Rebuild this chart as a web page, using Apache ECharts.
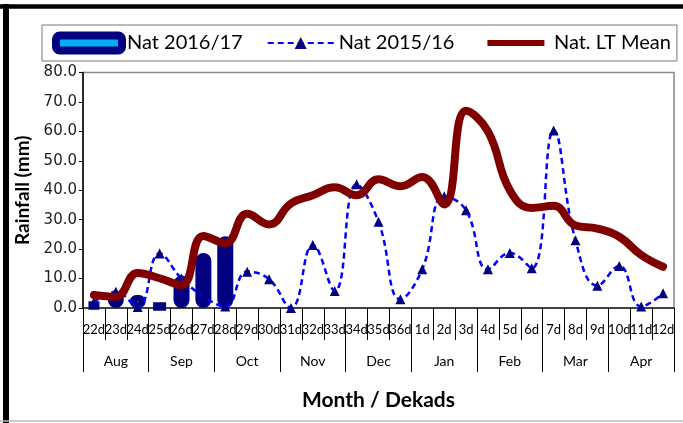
<!DOCTYPE html>
<html>
<head>
<meta charset="utf-8">
<script src="https://cdn.jsdelivr.net/npm/echarts@6/dist/echarts.min.js"></script>
<style>
  html, body { margin: 0; padding: 0; background: #fff; }
  #chart { width: 683px; height: 423px; }
</style>
</head>
<body>
<div id="chart"></div>
<script>
// dekads along the x axis, grouped by month
const dekads = ['22d', '23d', '24d', '25d', '26d', '27d', '28d', '29d', '30d',
  '31d', '32d', '33d', '34d', '35d', '36d', '1d', '2d', '3d', '4d', '5d', '6d',
  '7d', '8d', '9d', '10d', '11d', '12d'];
const months = ['Aug', 'Sep', 'Oct', 'Nov', 'Dec', 'Jan', 'Feb', 'Mar', 'Apr'];

// rainfall (mm)
const nat1617 = [1.7, 5.5, 4.4, 1, 11, 18.7, 24.4, null, null, null, null, null, null, null,
  null, null, null, null, null, null, null, null, null, null, null, null, null];
const nat1516 = [2, 5.5, 0.3, 18.5, 10, 4, 0.5, 12.3, 9.8, 0, 21.4, 5.8, 42, 29.3,
  3, 13.2, 38, 33.2, 13.2, 18.7, 13.5, 60.3, 23, 7.6, 14.3, 0.5, 5];
const ltMean = [4.4, 3.8, 11.9, 10.1, 7.8, 24.5, 22, 32, 28.4, 35.5, 38.3, 41, 38.3, 43.7,
  41.4, 44.5, 35.2, 67, 60, 40, 34, 34.7, 28, 27, 24.2, 18, 14];

const yTicks = { min: 0, max: 80, interval: 10 };

const chart = echarts.init(document.getElementById('chart'));

const option = {
  animation: false,
  textStyle: { fontFamily: 'Lato' },
  legend: {
    left: 42,
    top: 25,
    width: 634,
    padding: [6, 6, 6, 10],
    borderColor: '#777',
    borderWidth: 1,
    itemWidth: 66,
    itemHeight: 15,
    itemGap: 24,
    textStyle: { fontSize: 20, color: '#000', fontFamily: 'Lato', padding: [0, 0, 0, 0] },
    data: [
      { name: 'Nat 2016/17', icon: 'roundRect',
        itemStyle: { color: '#00B0F0', borderColor: '#000080', borderWidth: 8 } },
      { name: 'Nat 2015/16' },
      // thick maroon bar: white border trims the icon down to a line
      { name: 'Nat. LT Mean', icon: 'roundRect',
        itemStyle: { color: '#800000', borderColor: '#fff', borderWidth: 9 } }
    ]
  },
  grid: {
    left: 83,
    right: 9,
    top: 72.5,
    bottom: 115,
    show: true,
    borderColor: '#888',
    borderWidth: 1.5
  },
  xAxis: [
    {
      type: 'category',
      data: dekads,
      position: 'bottom',
      boundaryGap: true,
      axisLine: { show: true, lineStyle: { color: '#222', width: 1.5 } },
      axisTick: { show: true, interval: 0, length: 32, lineStyle: { color: '#000', width: 1 } },
      axisLabel: { interval: 0, margin: 15, fontSize: 13, color: '#000', fontFamily: 'Lato' }
    },
    {
      type: 'category',
      data: months,
      position: 'bottom',
      boundaryGap: true,
      axisLine: { show: false },
      axisTick: { show: true, interval: 0, length: 64, lineStyle: { color: '#000', width: 1 } },
      axisLabel: { interval: 0, margin: 46, fontSize: 14, color: '#000', fontFamily: 'Lato' },
      name: 'Month / Dekads',
      nameLocation: 'middle',
      nameGap: 82,
      nameTextStyle: { fontSize: 21, fontWeight: 'bold', color: '#000', fontFamily: 'Lato' }
    }
  ],
  yAxis: {
    type: 'value',
    min: yTicks.min,
    max: yTicks.max,
    interval: yTicks.interval,
    name: 'Rainfall (mm)',
    nameLocation: 'middle',
    nameRotate: 90,
    nameGap: 42,
    nameTextStyle: { fontSize: 19, fontWeight: 'bold', color: '#000', fontFamily: 'Lato' },
    axisLine: { show: true, lineStyle: { color: '#000', width: 1.5 } },
    axisTick: { show: true, length: 4, lineStyle: { color: '#000' } },
    splitLine: { show: false },
    axisLabel: {
      margin: 6,
      fontSize: 15,
      color: '#222',
      fontFamily: 'DejaVu Sans',
      formatter: v => v.toFixed(1)
    }
  },
  series: [
    {
      name: 'Nat 2016/17',
      type: 'bar',
      data: nat1617,
      barWidth: 16,
      z: 1,
      itemStyle: {
        color: '#00B0F0',
        borderColor: '#000080',
        borderWidth: 8.5,
        borderRadius: 4
      }
    },
    {
      name: 'Nat 2015/16',
      type: 'line',
      data: nat1516,
      smooth: 0.45,
      z: 3,
      symbol: 'triangle',
      symbolSize: 10,
      itemStyle: { color: '#000080' },
      lineStyle: { color: '#0000FF', width: 2.5, type: [6, 4] }
    },
    {
      name: 'Nat. LT Mean',
      type: 'line',
      data: ltMean,
      smooth: 0.45,
      z: 4,
      symbol: 'none',
      itemStyle: { color: '#800000' },
      lineStyle: { color: '#800000', width: 8, cap: 'round', join: 'round' }
    }
  ],
  graphic: [
    // outer chart frame
    { type: 'line', shape: { x1: 0, y1: 6.5, x2: 683, y2: 6.5 }, style: { stroke: '#000', lineWidth: 4.5 } },
    { type: 'line', shape: { x1: 6, y1: 4, x2: 6, y2: 423 }, style: { stroke: '#000', lineWidth: 6 } },
    { type: 'line', shape: { x1: 0, y1: 421, x2: 683, y2: 421 }, style: { stroke: '#bbb', lineWidth: 1.5 } }
  ]
};

chart.setOption(option);
</script>
</body>
</html>
